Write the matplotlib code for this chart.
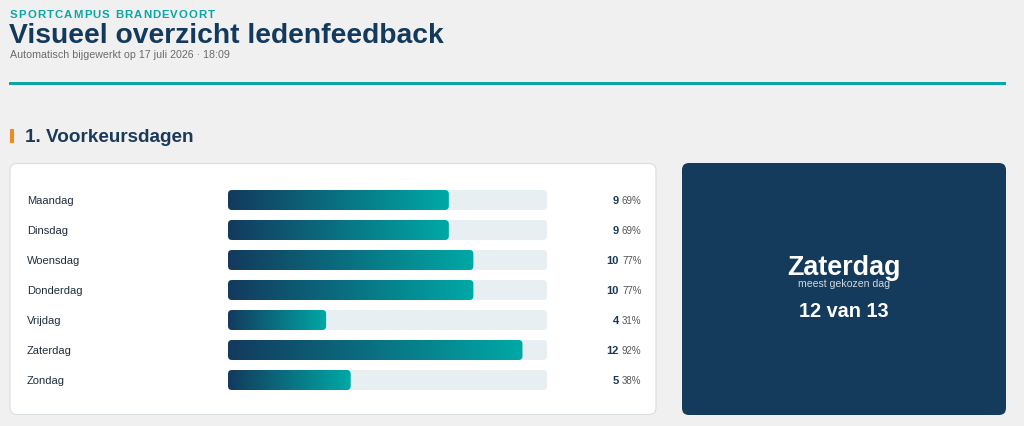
import numpy as np
import matplotlib.pyplot as plt
from matplotlib.patches import FancyBboxPatch, Rectangle
from matplotlib.font_manager import FontProperties, findfont
from matplotlib.ft2font import FT2Font
import matplotlib.transforms as mtransforms
from matplotlib.colors import LinearSegmentedColormap

plt.rcParams['font.family'] = ['Liberation Sans', 'DejaVu Sans']

# data
days = ["Maandag", "Dinsdag", "Woensdag", "Donderdag", "Vrijdag", "Zaterdag", "Zondag"]
counts = [9, 9, 10, 10, 4, 12, 5]
total = 13
top_label = "meest gekozen dag"

navy = "#133a5c"
teal = "#0aa5a5"
bg = "#f0f0f0"

W, H = 1024, 427
fig = plt.figure(figsize=(W / 100, H / 100), dpi=100, facecolor=bg)
ax = fig.add_axes([0, 0, 1, 1])
ax.set_xlim(0, W)
ax.set_ylim(H, 0)
ax.axis("off")

# header (kicker with letter spacing, drawn char by char using glyph advances)
fp_kicker = FontProperties(family="Liberation Sans", weight="bold", size=8.2)
ft = FT2Font(findfont(fp_kicker))
ft.set_size(8.2, 100)
x = 10
for ch in "SPORTCAMPUS BRANDEVOORT":
    if ch != " ":
        ax.text(x, 15, ch, fontproperties=fp_kicker, color=teal, va="center", ha="left")
    adv = ft.load_char(ord(ch)).linearHoriAdvance / 65536
    x += adv + 1.1

ax.text(9, 36, "Visueel overzicht ledenfeedback", fontsize=20.3, fontweight="bold",
        color=navy, va="center", ha="left")
ax.text(10, 55, "Automatisch bijgewerkt op 17 juli 2026 · 18:09", fontsize=7.7,
        color="#6b6b6b", va="center", ha="left")
ax.add_patch(Rectangle((9, 82.5), 997, 3, color=teal, lw=0))

# section title
ax.add_patch(Rectangle((10, 130), 3.5, 14, color="#f08a24", lw=0))
ax.text(25, 137.5, "1. Voorkeursdagen", fontsize=13.6, fontweight="bold",
        color="#1b3a57", va="center", ha="left")

# cards
ax.add_patch(FancyBboxPatch((10, 164.5), 646, 251, boxstyle="round,pad=0,rounding_size=7",
                            fc="white", ec="#d9dee3", lw=0.8))
ax.add_patch(FancyBboxPatch((682, 164), 324, 252, boxstyle="round,pad=0,rounding_size=7",
                            fc="#143a5c", ec="none"))

# bar axes (pixel region x 228..547)
bx0, bx1 = 228, 547
row0, step = 201, 30
n = len(days)
y_top = row0 - step / 2
y_bot = row0 + step * (n - 1) + step / 2
bax = fig.add_axes([bx0 / W, 1 - y_bot / H, (bx1 - bx0) / W, (y_bot - y_top) / H])
bax.set_xlim(0, total)
bax.set_ylim(n - 0.5, -0.5)
bax.axis("off")
bax.patch.set_alpha(0)

bar_h = 20 / step
cmap = LinearSegmentedColormap.from_list("g", ["#133a5e", "#00a9a6"])
grad = np.linspace(0, 1, 256).reshape(1, -1)
rs = 4 * total / (bx1 - bx0)
aspect = step / ((bx1 - bx0) / total)  # px per y unit / px per x unit

for i, c in enumerate(counts):
    track = FancyBboxPatch((0, i - bar_h / 2), total, bar_h,
                           boxstyle=f"round,pad=0,rounding_size={rs}",
                           mutation_aspect=1 / aspect, fc="#e8eff3", ec="none", zorder=1)
    bax.add_patch(track)
    r = bax.barh(i, c, height=bar_h, color="none")[0]
    clip = FancyBboxPatch((0, i - bar_h / 2), r.get_width(), bar_h,
                          boxstyle=f"round,pad=0,rounding_size={rs}",
                          mutation_aspect=1 / aspect, fc="none", ec="none")
    bax.add_patch(clip)
    im = bax.imshow(grad, cmap=cmap, extent=(0, r.get_width(), i + bar_h / 2, i - bar_h / 2),
                    aspect="auto", interpolation="bilinear", zorder=2)
    im.set_clip_path(clip)

bax.set_xlim(0, total)
bax.set_ylim(n - 0.5, -0.5)

tr = mtransforms.blended_transform_factory(ax.transData, bax.transData)
for i, (d, c) in enumerate(zip(days, counts)):
    ax.text(27, i, d, transform=tr, fontsize=8, color="#1f2d3d", va="center", ha="left")
    ax.text(619, i, str(c), transform=tr, fontsize=8, fontweight="bold",
            color="#1b3a57", va="center", ha="right")
    ax.text(622, i, f"{round(c / total * 100)}%", transform=tr, fontsize=7,
            color="#555555", va="center", ha="left")

# highlight card
best = int(np.argmax(counts))
ax.text(844, 268, days[best], fontsize=19.4, fontweight="bold", color="white",
        va="center", ha="center")
ax.text(844, 284, top_label, fontsize=7.6, color="#d0d8e0", va="center", ha="center")
ax.text(844, 312, f"{counts[best]} van {total}", fontsize=14.3, fontweight="bold",
        color="white", va="center", ha="center")

fig.savefig("out.png", dpi=100, facecolor=bg)
